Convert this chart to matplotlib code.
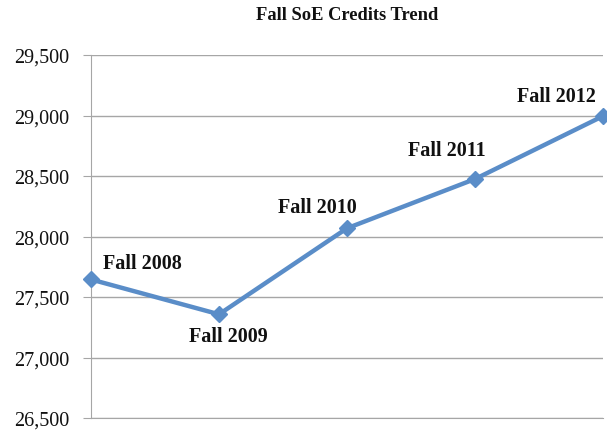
import matplotlib
matplotlib.use("Agg")
import matplotlib.pyplot as plt
from matplotlib.ticker import FuncFormatter

terms = ["Fall 2008", "Fall 2009", "Fall 2010", "Fall 2011", "Fall 2012"]
credits = [27645, 27357, 28068, 28475, 28995]
yticks = [26500, 27000, 27500, 28000, 28500, 29000, 29500]
label_offsets = [(51, 16), (9, -22), (-30, 21), (-28, 29), (-47, 20)]

plt.rcParams['font.family'] = ['Liberation Serif', 'DejaVu Serif']

fig = plt.figure(figsize=(6.07, 4.31), dpi=100)
ax = fig.add_axes([91/607, 12/431, 512/607, 363/431])

x = list(range(len(terms)))
ax.plot(x, credits, color='#5A8DC8', linewidth=3.2, marker='D', markersize=8.5,
        markerfacecolor='#5A8DC8', markeredgecolor='#5A8DC8', zorder=3, clip_on=False)

for xi, yi, lab, off in zip(x, credits, terms, label_offsets):
    ax.annotate(lab, (xi, yi), xytext=off, textcoords='offset pixels',
                ha='center', va='center', fontsize=14.5, fontweight='bold', color='#111111')

ax.set_xlim(0, len(terms) - 1)
ax.set_ylim(yticks[0], yticks[-1])
ax.set_yticks(yticks)
ax.yaxis.set_major_formatter(FuncFormatter(lambda v, p: f"{int(v):,}"))
ax.set_xticks([])
ax.grid(axis='y', color='#A6A6A6', linewidth=1.0)
ax.set_axisbelow(True)
for s in ['top', 'right']:
    ax.spines[s].set_visible(False)
ax.spines['left'].set_color('#A6A6A6')
ax.spines['bottom'].set_color('#A6A6A6')
ax.tick_params(axis='y', length=6, color='#A6A6A6', labelsize=14.5, pad=9.5, labelcolor='#111111')

fig.text(347/607, 1 - 16/431, "Fall SoE Credits Trend", ha='center', va='center',
         fontsize=13.3, fontweight='bold', color='#111111')

fig.savefig("out.png", dpi=100)
